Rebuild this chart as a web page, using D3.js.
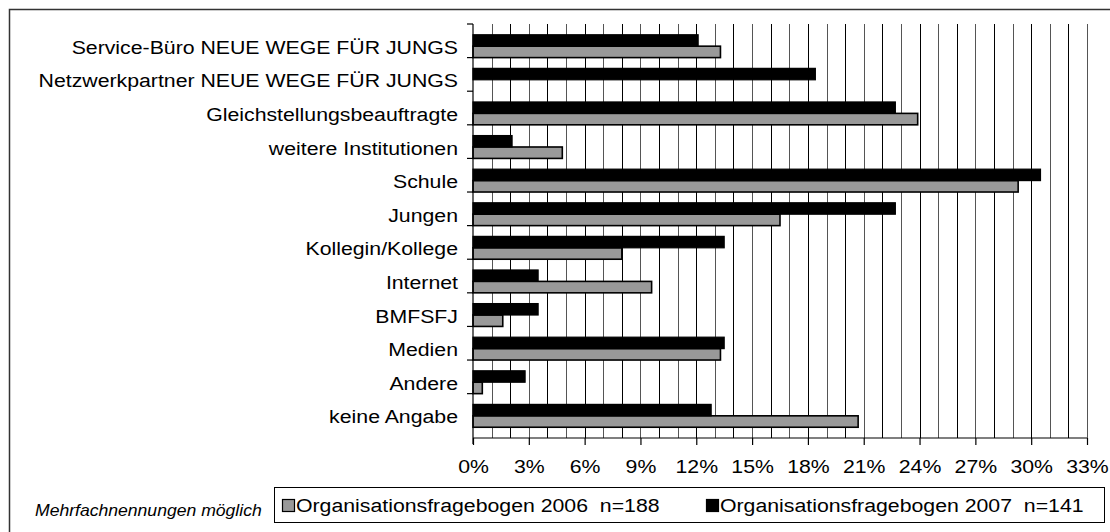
<!DOCTYPE html>
<html>
<head>
<meta charset="utf-8">
<title>Organisationsfragebogen</title>
<script src="https://cdn.jsdelivr.net/npm/d3@7"></script>
<style>
  body { margin: 0; background: #fff; }
  text { font-family: "Liberation Sans", Arial, sans-serif; }
</style>
</head>
<body>
<script>
// categories, top to bottom
var categories = [
  "Service-Büro NEUE WEGE FÜR JUNGS",
  "Netzwerkpartner NEUE WEGE FÜR JUNGS",
  "Gleichstellungsbeauftragte",
  "weitere Institutionen",
  "Schule",
  "Jungen",
  "Kollegin/Kollege",
  "Internet",
  "BMFSFJ",
  "Medien",
  "Andere",
  "keine Angabe"
];
// percent values
var values2006 = [13.3, 0, 23.9, 4.8, 29.3, 16.5, 8.0, 9.6, 1.6, 13.3, 0.5, 20.7];
var values2007 = [12.1, 18.4, 22.7, 2.1, 30.5, 22.7, 13.5, 3.5, 3.5, 13.5, 2.8, 12.8];
var seriesNames = ["Organisationsfragebogen 2006  n=188", "Organisationsfragebogen 2007  n=141"];
var xTicks = [0, 3, 6, 9, 12, 15, 18, 21, 24, 27, 30, 33];
var note = "Mehrfachnennungen möglich";

var W = 1110, H = 532;
var plot = {left: 473, top: 24, right: 1087, bottom: 438};
var stretch = 1.12; // text in the original is a bit wide

var svg = d3.select("body").append("svg")
  .attr("width", W)
  .attr("height", H);

// outer frame
svg.append("rect")
  .attr("x", 9.5).attr("y", 9.5)
  .attr("width", W).attr("height", H)
  .attr("fill", "none")
  .attr("stroke", "#333")
  .attr("stroke-width", 1.5);

var x = d3.scaleLinear().domain([0, 33]).range([plot.left, plot.right]);
var y = d3.scaleBand().domain(categories).range([plot.top, plot.bottom]).padding(0.32);
var ySub = d3.scaleBand().domain(["2007", "2006"]).range([0, y.bandwidth()]);

// vertical gridlines every 1%
svg.append("g")
  .selectAll("line")
  .data(d3.range(1, 34))
  .enter()
  .append("line")
  .attr("x1", function(d) { return Math.round(x(d)) + 0.5; })
  .attr("x2", function(d) { return Math.round(x(d)) + 0.5; })
  .attr("y1", plot.top)
  .attr("y2", plot.bottom)
  .attr("stroke", function(d, i) { return i % 2 ? "#000" : "#555"; })
  .attr("stroke-width", 1);

// bars
var rows = categories.map(function(c, i) {
  return {cat: c, v2006: values2006[i], v2007: values2007[i]};
});
var groups = svg.append("g")
  .selectAll("g")
  .data(rows)
  .enter()
  .append("g")
  .attr("transform", function(d) { return "translate(0," + y(d.cat) + ")"; });

groups.filter(function(d) { return d.v2006 > 0; })
  .append("rect")
  .attr("x", x(0))
  .attr("y", ySub("2006"))
  .attr("width", function(d) { return x(d.v2006) - x(0); })
  .attr("height", ySub.bandwidth())
  .attr("fill", "#999")
  .attr("stroke", "#000")
  .attr("stroke-width", 1.6);

groups.append("rect")
  .attr("x", x(0))
  .attr("y", ySub("2007"))
  .attr("width", function(d) { return x(d.v2007) - x(0); })
  .attr("height", ySub.bandwidth())
  .attr("fill", "#000")
  .attr("stroke", "#000")
  .attr("stroke-width", 1.2);

// left axis with ticks at band boundaries
var step = y.step();
var la = svg.append("g").attr("stroke", "#000").attr("stroke-width", 1.2);
la.append("line")
  .attr("x1", plot.left).attr("x2", plot.left)
  .attr("y1", plot.top).attr("y2", plot.bottom + 6);
la.selectAll("line.tk")
  .data(d3.range(0, categories.length))
  .enter()
  .append("line")
  .attr("class", "tk")
  .attr("x1", plot.left - 6).attr("x2", plot.left)
  .attr("y1", function(d) { return plot.top + d * step; })
  .attr("y2", function(d) { return plot.top + d * step; });

// category labels
svg.append("g")
  .selectAll("text")
  .data(categories)
  .enter()
  .append("text")
  .attr("transform", function(d) {
    return "translate(458," + (y(d) + y.bandwidth() / 2 + 1) + ") scale(" + stretch + ",1)";
  })
  .attr("dy", "0.35em")
  .attr("text-anchor", "end")
  .attr("font-size", 19)
  .attr("fill", "#000")
  .text(function(d) { return d; });

// bottom axis
var xAxis = d3.axisBottom(x)
  .tickValues(xTicks)
  .tickSize(7)
  .tickPadding(15)
  .tickFormat(function(d) { return d + "%"; });
var xa = svg.append("g")
  .attr("transform", "translate(0," + plot.bottom + ")")
  .call(xAxis);
xa.select(".domain").attr("stroke", "#000").attr("stroke-width", 1.2)
  .attr("d", "M" + plot.left + ",0H" + plot.right);
xa.selectAll(".tick line").attr("stroke", "#000").attr("stroke-width", 1.2);
xa.selectAll(".tick text")
  .attr("font-size", 19)
  .attr("font-family", "'Liberation Sans', Arial, sans-serif")
  .attr("fill", "#000")
  .attr("transform", "scale(" + stretch + ",1)")
  .attr("x", 0);

// note
svg.append("text")
  .attr("transform", "translate(35,516) scale(1.1,1)")
  .attr("font-size", 16)
  .attr("font-style", "italic")
  .attr("fill", "#000")
  .text(note);

// legend
var lg = svg.append("g");
lg.append("rect")
  .attr("x", 274.5).attr("y", 487.5)
  .attr("width", 830).attr("height", 35)
  .attr("fill", "#fff")
  .attr("stroke", "#000")
  .attr("stroke-width", 1);
var legendItems = [
  {name: seriesNames[0], fill: "#999", x: 282},
  {name: seriesNames[1], fill: "#000", x: 706}
];
var li = lg.selectAll("g")
  .data(legendItems)
  .enter()
  .append("g")
  .attr("transform", function(d) { return "translate(" + d.x + ",0)"; });
li.append("rect")
  .attr("x", 0.5).attr("y", 499.5)
  .attr("width", 12).attr("height", 12)
  .attr("fill", function(d) { return d.fill; })
  .attr("stroke", "#000")
  .attr("stroke-width", 1.2);
li.append("text")
  .attr("transform", "translate(14,512) scale(" + stretch + ",1)")
  .attr("font-size", 19)
  .attr("fill", "#000")
  .attr("xml:space", "preserve")
  .style("white-space", "pre")
  .text(function(d) { return d.name; });
</script>
</body>
</html>
